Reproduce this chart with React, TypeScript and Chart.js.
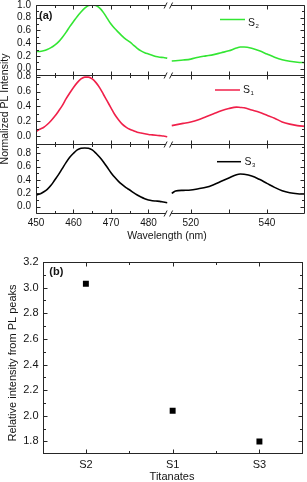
import { useEffect, useRef } from 'react';
import { Chart, registerables } from 'chart.js';

Chart.register(...registerables);

// ---------- Data (panel a) ----------
const WAVELENGTH_LEFT = [450, 451, 452, 453, 454, 455, 456, 457, 458, 459, 460, 461, 462, 463, 464, 465, 466, 467, 468, 469, 470, 471, 472, 473, 474, 475, 476, 477, 478, 479, 480, 481, 482, 483, 484, 485];
const WAVELENGTH_RIGHT = [515, 516, 518, 520, 522, 524, 526, 528, 530, 532, 533, 534, 536, 538, 540, 542, 544, 546, 548, 550];

const S2_LEFT = [0.27, 0.27, 0.28, 0.30, 0.33, 0.37, 0.42, 0.49, 0.57, 0.66, 0.74, 0.82, 0.89, 0.95, 0.99, 1.0, 0.99, 0.95, 0.88, 0.79, 0.70, 0.63, 0.57, 0.51, 0.46, 0.42, 0.37, 0.32, 0.28, 0.25, 0.23, 0.21, 0.19, 0.18, 0.175, 0.165];
const S2_RIGHT = [0.12, 0.125, 0.135, 0.15, 0.18, 0.20, 0.22, 0.25, 0.28, 0.325, 0.34, 0.34, 0.32, 0.28, 0.23, 0.18, 0.14, 0.115, 0.10, 0.095];

const S1_LEFT = [0.06, 0.09, 0.115, 0.155, 0.205, 0.265, 0.335, 0.41, 0.50, 0.58, 0.655, 0.72, 0.77, 0.795, 0.795, 0.77, 0.72, 0.65, 0.56, 0.47, 0.38, 0.29, 0.22, 0.16, 0.12, 0.09, 0.07, 0.05, 0.04, 0.03, 0.02, 0.015, 0.01, 0.005, 0.0, -0.01];
const S1_RIGHT = [0.14, 0.15, 0.17, 0.19, 0.22, 0.26, 0.30, 0.34, 0.37, 0.39, 0.385, 0.38, 0.35, 0.32, 0.28, 0.24, 0.19, 0.16, 0.14, 0.13];

const S3_LEFT = [0.175, 0.19, 0.22, 0.26, 0.32, 0.40, 0.48, 0.57, 0.66, 0.74, 0.80, 0.85, 0.875, 0.88, 0.875, 0.85, 0.80, 0.74, 0.67, 0.59, 0.51, 0.44, 0.38, 0.33, 0.285, 0.25, 0.21, 0.175, 0.145, 0.12, 0.10, 0.09, 0.085, 0.08, 0.07, 0.06];
const S3_RIGHT = [0.20, 0.235, 0.245, 0.25, 0.27, 0.29, 0.33, 0.38, 0.43, 0.48, 0.49, 0.485, 0.46, 0.41, 0.35, 0.29, 0.24, 0.21, 0.195, 0.19];

const SERIES_NAMES = ['S', 'S', 'S'];
const SERIES_SUBSCRIPTS = ['2', '1', '3'];

const X_LABELS_LEFT = [450, 460, 470, 480];
const X_MINOR_LEFT = [455, 465, 475];
const X_LABELS_RIGHT = [520, 540];
const X_MARKS_RIGHT = [520, 530, 540];

const Y_TICKS_P1 = [0, 0.2, 0.4, 0.6, 0.8, 1.0];
const Y_MINOR_P1 = [0.1, 0.3, 0.5, 0.7, 0.9];
const Y_TICKS_P2 = [0, 0.2, 0.4, 0.6, 0.8];
const Y_MINOR_P2 = [0.1, 0.3, 0.5, 0.7];
const Y_TICKS_P3 = [0, 0.2, 0.4, 0.6, 0.8];
const Y_MINOR_P3 = [0.1, 0.3, 0.5, 0.7, 0.9];

// ---------- Data (panel b) ----------
const TITANATES = ['S2', 'S1', 'S3'];
const RELATIVE_INTENSITY = [3.03, 2.04, 1.80];
const REL_Y_TICKS = [1.8, 2.0, 2.2, 2.4, 2.6, 2.8, 3.0, 3.2];
const REL_Y_MINOR = [1.9, 2.1, 2.3, 2.5, 2.7, 2.9, 3.1];

// ---------- Styles ----------
const FONT = '"Liberation Sans", Arial, Helvetica, sans-serif';
const GREEN = '#33e633';
const RED = '#f0204a';
const BLACK = '#000000';
const AXIS = '#262626';
const TEXT = '#141414';

Chart.defaults.font.family = FONT;
Chart.defaults.color = TEXT;

const pts = (xs: number[], ys: number[]) => xs.map((x, i) => ({ x, y: ys[i] }));

function seg(ctx: CanvasRenderingContext2D, x1: number, y1: number, x2: number, y2: number) {
  ctx.beginPath();
  ctx.moveTo(x1, y1);
  ctx.lineTo(x2, y2);
  ctx.stroke();
}
const px = (v: number) => Math.round(v) + 0.5;

const lineDs = (data: any[], xAxisID: string, yAxisID: string, color: string) => ({
  data,
  xAxisID,
  yAxisID,
  borderColor: color,
  backgroundColor: color,
  borderWidth: 1.6,
  pointRadius: 0,
  fill: false,
  cubicInterpolationMode: 'monotone' as const,
});

const yPanel = (min: number, max: number, weight: number, ticks: number[]) => ({
  type: 'linear' as const,
  position: 'left' as const,
  stack: 'panels',
  stackWeight: weight,
  min,
  max,
  grid: { display: false, drawTicks: false },
  border: { display: false },
  afterBuildTicks: (s: any) => {
    s.ticks = ticks.map((v) => ({ value: v }));
  },
  afterFit: (s: any) => {
    s.width = 36;
    s.paddingTop = 0;
    s.paddingBottom = 0;
  },
  ticks: {
    padding: 5,
    autoSkip: false,
    font: { size: 10 },
    color: TEXT,
    callback: (v: any) => Number(v).toFixed(1),
  },
});

const xPart = (min: number, max: number, weight: number, ticks: number[]) => ({
  type: 'linear' as const,
  position: 'bottom' as const,
  stack: 'wl',
  stackWeight: weight,
  min,
  max,
  grid: { display: false, drawTicks: false },
  border: { display: false },
  afterBuildTicks: (s: any) => {
    s.ticks = ticks.map((v) => ({ value: v }));
  },
  afterFit: (s: any) => {
    s.height = 37;
    s.paddingLeft = 0;
    s.paddingRight = 0;
  },
  ticks: {
    padding: 4,
    autoSkip: false,
    maxRotation: 0,
    font: { size: 10 },
    color: TEXT,
    callback: (v: any) => String(v),
  },
});

const LEGEND_A = [
  { x1: 220, x2: 245, ly: 19.5, tx: 248, ty: 23 },
  { x1: 215, x2: 240, ly: 90, tx: 243, ty: 90 },
  { x1: 217, x2: 241, ly: 161.7, tx: 244.5, ty: 162 },
];
const COLORS = [GREEN, RED, BLACK];

const frameA = {
  id: 'frameA',
  afterDatasetsDraw(chart: any) {
    const ctx: CanvasRenderingContext2D = chart.ctx;
    const xL = chart.scales.xL;
    const xR = chart.scales.xR;
    const panels = [chart.scales.y1, chart.scales.y2, chart.scales.y3];
    const majors = [Y_TICKS_P1, Y_TICKS_P2, Y_TICKS_P3];
    const minors = [Y_MINOR_P1, Y_MINOR_P2, Y_MINOR_P3];
    const left = px(chart.chartArea.left);
    const right = px(chart.chartArea.right - 1);
    const brk = xL.right;
    const gapL = brk - 3;
    const gapR = brk + 2;
    ctx.save();
    ctx.strokeStyle = AXIS;
    ctx.lineWidth = 1;
    seg(ctx, left, px(panels[0].top), left, px(panels[2].bottom));
    seg(ctx, right, px(panels[0].top), right, px(panels[2].bottom));
    const edges = [panels[0].top, panels[0].bottom, panels[1].bottom, panels[2].bottom];
    edges.forEach((y: number) => {
      const yy = px(y);
      seg(ctx, left, yy, gapL, yy);
      seg(ctx, gapR, yy, right, yy);
      seg(ctx, gapL - 2, yy + 3, gapL + 1, yy - 3);
      seg(ctx, gapR - 1.5, yy + 3, gapR + 1.5, yy - 3);
    });
    panels.forEach((ys: any, p: number) => {
      const t = px(ys.top);
      const b = px(ys.bottom);
      const xt = (scale: any, v: number, len: number) => {
        const x = px(scale.getPixelForValue(v));
        seg(ctx, x, t, x, t + len);
        seg(ctx, x, b, x, b - len);
      };
      X_LABELS_LEFT.forEach((v) => xt(xL, v, 4));
      X_MINOR_LEFT.forEach((v) => xt(xL, v, 2.5));
      X_MARKS_RIGHT.forEach((v) => xt(xR, v, 4));
      const yt = (v: number, len: number) => {
        const y = px(ys.getPixelForValue(v));
        seg(ctx, left, y, left + len, y);
        seg(ctx, right, y, right - len, y);
      };
      majors[p].forEach((v) => yt(v, 4));
      minors[p].forEach((v) => yt(v, 2.5));
    });
    // legends
    LEGEND_A.forEach((L, i) => {
      ctx.strokeStyle = COLORS[i];
      ctx.lineWidth = 1.5;
      seg(ctx, L.x1, L.ly, L.x2, L.ly);
      ctx.fillStyle = TEXT;
      ctx.textBaseline = 'middle';
      ctx.textAlign = 'left';
      ctx.font = `10.5px ${FONT}`;
      ctx.fillText(SERIES_NAMES[i], L.tx, L.ty);
      const w = ctx.measureText(SERIES_NAMES[i]).width;
      ctx.font = `6px ${FONT}`;
      ctx.fillText(SERIES_SUBSCRIPTS[i], L.tx + w + 0.5, L.ty + 3);
    });
    // texts
    ctx.fillStyle = TEXT;
    ctx.font = `bold 11px ${FONT}`;
    ctx.textAlign = 'left';
    ctx.textBaseline = 'middle';
    ctx.fillText('(a)', 39, 16);
    ctx.font = `10.5px ${FONT}`;
    ctx.textAlign = 'center';
    ctx.fillText('Wavelength (nm)', 167, 236.5);
    ctx.save();
    ctx.translate(5.5, 109);
    ctx.rotate(-Math.PI / 2);
    ctx.fillText('Normalized PL Intensity', 0, 0);
    ctx.restore();
    ctx.restore();
  },
};

const frameB = {
  id: 'frameB',
  afterDatasetsDraw(chart: any) {
    const ctx: CanvasRenderingContext2D = chart.ctx;
    const xs = chart.scales.x;
    const ys = chart.scales.y;
    const ca = chart.chartArea;
    const l = px(ca.left);
    const r = px(ca.right - 1);
    const t = px(ca.top);
    const b = px(ca.bottom);
    ctx.save();
    ctx.strokeStyle = AXIS;
    ctx.lineWidth = 1;
    ctx.strokeRect(l, t, r - l, b - t);
    const xt = (v: number, len: number) => {
      const x = px(xs.getPixelForValue(v));
      seg(ctx, x, t, x, t + len);
      seg(ctx, x, b, x, b - len);
    };
    TITANATES.forEach((_, i) => xt(i, 4));
    TITANATES.slice(1).forEach((_, i) => xt(i + 0.5, 2.5));
    const yt = (v: number, len: number) => {
      const y = px(ys.getPixelForValue(v));
      seg(ctx, l, y, l + len, y);
      seg(ctx, r, y, r - len, y);
    };
    REL_Y_TICKS.forEach((v) => yt(v, 4));
    REL_Y_MINOR.forEach((v) => yt(v, 2.5));
    ctx.fillStyle = TEXT;
    ctx.font = `bold 11px ${FONT}`;
    ctx.textAlign = 'left';
    ctx.textBaseline = 'middle';
    ctx.fillText('(b)', 49.3, 22.3);
    ctx.font = `11px ${FONT}`;
    ctx.textAlign = 'center';
    ctx.fillText('Titanates', 172, 226.7);
    ctx.save();
    ctx.translate(13.3, 113);
    ctx.rotate(-Math.PI / 2);
    ctx.fillText('Relative intensity from PL peaks', 0, 0);
    ctx.restore();
    ctx.restore();
  },
};

export default function App() {
  const refA = useRef<HTMLCanvasElement>(null);
  const refB = useRef<HTMLCanvasElement>(null);

  useEffect(() => {
    document.body.style.margin = '0';
    const chartA = new Chart(refA.current as HTMLCanvasElement, {
      type: 'line',
      data: {
        datasets: [
          lineDs(pts(WAVELENGTH_LEFT, S2_LEFT), 'xL', 'y1', GREEN),
          lineDs(pts(WAVELENGTH_RIGHT, S2_RIGHT), 'xR', 'y1', GREEN),
          lineDs(pts(WAVELENGTH_LEFT, S1_LEFT), 'xL', 'y2', RED),
          lineDs(pts(WAVELENGTH_RIGHT, S1_RIGHT), 'xR', 'y2', RED),
          lineDs(pts(WAVELENGTH_LEFT, S3_LEFT), 'xL', 'y3', BLACK),
          lineDs(pts(WAVELENGTH_RIGHT, S3_RIGHT), 'xR', 'y3', BLACK),
        ] as any,
      },
      options: {
        responsive: false,
        animation: false,
        devicePixelRatio: 1,
        events: [],
        layout: { padding: { left: 0, right: 2, top: 5, bottom: 0 } },
        plugins: { legend: { display: false }, tooltip: { enabled: false }, title: { display: false } },
        scales: {
          y3: yPanel(-0.094, 0.939, 69, Y_TICKS_P3),
          y2: yPanel(-0.108, 0.823, 69, Y_TICKS_P2),
          y1: yPanel(-0.1, 1.0, 70, Y_TICKS_P1),
          xL: xPart(450, 485.5, 133.1, X_LABELS_LEFT),
          xR: xPart(514.3, 550, 135.9, X_LABELS_RIGHT),
        } as any,
      },
      plugins: [frameA],
    });

    const chartB = new Chart(refB.current as HTMLCanvasElement, {
      type: 'line',
      data: {
        labels: TITANATES,
        datasets: [
          {
            data: RELATIVE_INTENSITY,
            showLine: false,
            pointStyle: 'rect',
            pointRadius: 4.2,
            backgroundColor: '#000',
            borderColor: '#000',
            borderWidth: 0,
          },
        ],
      },
      options: {
        responsive: false,
        animation: false,
        devicePixelRatio: 1,
        events: [],
        layout: { padding: { left: 0, right: 3.5, top: 12, bottom: 0 } },
        plugins: { legend: { display: false }, tooltip: { enabled: false }, title: { display: false } },
        scales: {
          x: {
            type: 'category',
            offset: true,
            grid: { display: false, drawTicks: false },
            border: { display: false },
            afterFit: (s: any) => {
              s.height = 29;
              s.paddingLeft = 0;
              s.paddingRight = 0;
            },
            ticks: { padding: 5, font: { size: 11 }, color: TEXT, maxRotation: 0 },
          },
          y: {
            type: 'linear',
            min: 1.71,
            max: 3.2,
            grid: { display: false, drawTicks: false },
            border: { display: false },
            afterBuildTicks: (s: any) => {
              s.ticks = REL_Y_TICKS.map((v) => ({ value: v }));
            },
            afterFit: (s: any) => {
              s.width = 42.5;
              s.paddingTop = 0;
              s.paddingBottom = 0;
            },
            ticks: {
              padding: 4,
              autoSkip: false,
              font: { size: 11 },
              color: TEXT,
              callback: (v: any) => Number(v).toFixed(1),
            },
          },
        } as any,
      },
      plugins: [frameB],
    });

    return () => {
      chartA.destroy();
      chartB.destroy();
    };
  }, []);

  return (
    <div style={{ position: 'fixed', left: 0, top: 0, width: 307, height: 482, background: '#fff' }}>
      <canvas
        ref={refA}
        width={307}
        height={250}
        style={{ position: 'absolute', left: 0, top: 0, width: 307, height: 250 }}
      />
      <canvas
        ref={refB}
        width={307}
        height={232}
        style={{ position: 'absolute', left: 0, top: 250, width: 307, height: 232 }}
      />
    </div>
  );
}
